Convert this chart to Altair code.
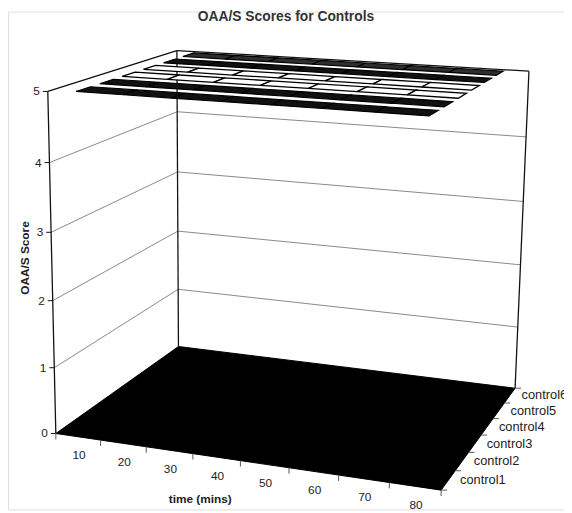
import numpy as np
import pandas as pd
import altair as alt

# ---------------- data ----------------
times = [10, 20, 30, 40, 50, 60, 70, 80]
controls = ["control1", "control2", "control3", "control4", "control5", "control6"]
control1 = [5, 5, 5, 5, 5, 5, 5, 5]
control2 = [5, 5, 5, 5, 5, 5, 5, 5]
control3 = [5, 5, 5, 5, 5, 5, 5, 5]
control4 = [5, 5, 5, 5, 5, 5, 5, 5]
control5 = [5, 5, 5, 5, 5, 5, 5, 5]
control6 = [5, 5, 5, 5, 5, 5, 5, 5]
series = [control1, control2, control3, control4, control5, control6]
score_ticks = [0, 1, 2, 3, 4, 5]

chart_title = "OAA/S Scores for Controls"
x_title = "time (mins)"
y_title = "OAA/S Score"

# ---------------- styling / layout ----------------
FONT = "Liberation Sans"
W, H = 564, 505
ribbon_style = ["dark", "dark", "light", "light", "dark", "dark2"]
HALF = 0.30  # half ribbon depth, in category units

# 3D box: u = time category axis (0..n), v = series depth axis (0..m), w = score
nU, nV, wMax = len(times), len(controls), max(score_ticks)

# anchor points of the perspective box (u, v, w) -> page pixel (x, y)
anchors = []
front_x = [57, 102, 148, 197, 243, 292, 343, 393, 445]
for i, xx in enumerate(front_x):
    anchors.append((i, 0, 0, xx, 436 + (xx - 57) * 57 / 388))
for j, (xx, yy) in enumerate([(445, 493), (463, 474), (477, 456), (490, 437),
                             (502, 421), (512, 406), (522, 390)]):
    if j > 0:
        anchors.append((nU, j, 0, xx, yy))
for k, yy in enumerate([437, 369, 302, 232, 162, 88]):
    if k > 0:
        anchors.append((0, 0, k, 57 - (437 - yy) * 9 / 349, yy))
anchors += [(0, nV, 0, 180, 348), (0, nV, wMax, 180, 47),
            (nU, nV, wMax, 536, 69), (nU, nV, 0, 520, 389)]

A = []
for u, v, w, X, Y in anchors:
    X, Y = (X - 8) / 100.0, (Y - 8) / 100.0
    A.append([u, v, w, 1, 0, 0, 0, 0, -X * u, -X * v, -X * w, -X])
    A.append([0, 0, 0, 0, u, v, w, 1, -Y * u, -Y * v, -Y * w, -Y])
_, _, vt = np.linalg.svd(np.array(A, dtype=float))
M = vt[-1].reshape(3, 4)
M = M / M[2, 3]


def proj_expr(row, su, sv, sw):
    den = f"({M[2,0]:.8f}*datum.{su}+{M[2,1]:.8f}*datum.{sv}+{M[2,2]:.8f}*datum.{sw}+{M[2,3]:.8f})"
    num = f"({M[row,0]:.8f}*datum.{su}+{M[row,1]:.8f}*datum.{sv}+{M[row,2]:.8f}*datum.{sw}+{M[row,3]:.8f})"
    return f"100*{num}/{den}"


def with_proj(ch, suffix=""):
    return ch.transform_calculate(
        **{"px" + suffix: proj_expr(0, "u" + suffix, "v" + suffix, "w" + suffix),
           "py" + suffix: proj_expr(1, "u" + suffix, "v" + suffix, "w" + suffix)})


XS = alt.Scale(domain=[0, W], nice=False, zero=False)
YS = alt.Scale(domain=[H, 0], nice=False, zero=False)


def X(f):
    return alt.X(f"{f}:Q", scale=XS, axis=None)


def Y(f):
    return alt.Y(f"{f}:Q", scale=YS, axis=None)


# ---------------- tables ----------------
floor = pd.DataFrame({"u": [0, nU, nU, 0, 0], "v": [0, 0, nV, nV, 0],
                      "w": [0] * 5, "idx": range(5), "pid": ["floor"] * 5})

rib_rows = []
for k, (name, vals) in enumerate(zip(controls, series)):
    vc = k + 0.5
    for i in range(len(times) - 1):
        pts = [(i + 0.5, vc - HALF, vals[i]), (i + 1.5, vc - HALF, vals[i + 1]),
               (i + 1.5, vc + HALF, vals[i + 1]), (i + 0.5, vc + HALF, vals[i]),
               (i + 0.5, vc - HALF, vals[i])]
        for n, (u, v, w) in enumerate(pts):
            rib_rows.append({"u": u, "v": v, "w": w, "idx": n,
                             "pid": f"{name}_{i}", "style": ribbon_style[k]})
ribbons = pd.DataFrame(rib_rows)

grid_rows = []
for s in score_ticks[1:-1]:
    grid_rows.append({"u": 0, "v": 0, "w": s, "u2": 0, "v2": nV, "w2": s})
    grid_rows.append({"u": 0, "v": nV, "w": s, "u2": nU, "v2": nV, "w2": s})
grid = pd.DataFrame(grid_rows)

edges = pd.DataFrame([
    {"u": 0, "v": 0, "w": 0, "u2": 0, "v2": 0, "w2": wMax},
    {"u": 0, "v": 0, "w": wMax, "u2": 0, "v2": nV, "w2": wMax},
    {"u": 0, "v": nV, "w": 0, "u2": 0, "v2": nV, "w2": wMax},
    {"u": 0, "v": nV, "w": wMax, "u2": nU, "v2": nV, "w2": wMax},
    {"u": nU, "v": nV, "w": 0, "u2": nU, "v2": nV, "w2": wMax},
])

score_lab = pd.DataFrame({"u": 0, "v": 0, "w": score_ticks,
                          "label": [str(s) for s in score_ticks]})
time_lab = pd.DataFrame({"u": [i + 0.5 for i in range(nU)], "v": 0, "w": 0,
                         "label": [str(t) for t in times]})
ctrl_lab = pd.DataFrame({"u": nU, "v": [k + 0.5 for k in range(nV)], "w": 0,
                         "label": controls})
time_tick = pd.DataFrame({"u": list(range(nU + 1)), "v": 0, "w": 0})
ctrl_tick = pd.DataFrame({"u": nU, "v": list(range(nV + 1)), "w": 0})


def seg_layer(df, color, width, dash=None):
    kw = dict(color=color, strokeWidth=width)
    if dash:
        kw["strokeDash"] = dash
    ch = alt.Chart(df)
    ch = with_proj(ch)
    ch = with_proj(ch, "2")
    return ch.mark_rule(**kw).encode(x=X("px"), y=Y("py"), x2="px2:Q", y2="py2:Q")


def poly_layer(df, fill, stroke, width):
    ch = with_proj(alt.Chart(df))
    return ch.mark_line(fill=fill, stroke=stroke, strokeWidth=width,
                        strokeJoin="miter").encode(
        x=X("px"), y=Y("py"), order="idx:Q", detail="pid:N")


floor_layer = poly_layer(floor, "#000000", "#000000", 1)
grid_layer = seg_layer(grid, "#7a7a7a", 0.9)
edge_layer = seg_layer(edges, "#111111", 1.3)

score_ticks_layer = with_proj(alt.Chart(score_lab)).transform_calculate(
    px2="datum.px-5").mark_rule(color="#111", strokeWidth=1).encode(
    x=X("px"), y=Y("py"), x2="px2:Q")
time_ticks_layer = with_proj(alt.Chart(time_tick)).transform_calculate(
    py2="datum.py+6").mark_rule(color="#555", strokeWidth=1).encode(
    x=X("px"), y=Y("py"), y2="py2:Q")
ctrl_ticks_layer = with_proj(alt.Chart(ctrl_tick)).transform_calculate(
    px2="datum.px+6").mark_rule(color="#555", strokeWidth=1).encode(
    x=X("px"), y=Y("py"), x2="px2:Q")

rib_dark = poly_layer(ribbons[ribbons["style"] == "dark"], "#111111", "#000000", 1.2)
rib_dark2 = poly_layer(ribbons[ribbons["style"] == "dark2"], "#2e2e2e", "#000000", 1.2)
rib_light = poly_layer(ribbons[ribbons["style"] == "light"], "#ffffff", "#000000", 1.3)

score_text = with_proj(alt.Chart(score_lab)).mark_text(
    align="right", baseline="middle", dx=-8, font=FONT, fontSize=12, color="#222").encode(
    x=X("px"), y=Y("py"), text="label:N")
time_text = with_proj(alt.Chart(time_lab)).mark_text(
    align="center", baseline="middle", dy=19, dx=1, font=FONT, fontSize=12, color="#222").encode(
    x=X("px"), y=Y("py"), text="label:N")
ctrl_text = with_proj(alt.Chart(ctrl_lab)).mark_text(
    align="left", baseline="middle", dx=12, font=FONT, fontSize=13, color="#222").encode(
    x=X("px"), y=Y("py"), text="label:N")

titles = pd.DataFrame({"t": [chart_title]})
title_text = alt.Chart(titles).mark_text(
    font=FONT, fontSize=14, fontWeight="bold", color="#333", align="center",
    baseline="middle").encode(x=alt.value(282), y=alt.value(6), text="t:N")
xt = pd.DataFrame({"t": [x_title]})
x_title_text = alt.Chart(xt).mark_text(
    font=FONT, fontSize=12, fontWeight="bold", color="#222", align="center",
    baseline="middle").encode(x=alt.value(195), y=alt.value(494), text="t:N")
yt = pd.DataFrame({"t": [y_title]})
y_title_text = alt.Chart(yt).mark_text(
    font=FONT, fontSize=12, fontWeight="bold", color="#222", align="center",
    baseline="middle", angle=270).encode(x=alt.value(17), y=alt.value(250), text="t:N")

chart = alt.layer(
    floor_layer, grid_layer, edge_layer, score_ticks_layer, time_ticks_layer,
    ctrl_ticks_layer, rib_dark, rib_dark2, rib_light, score_text, time_text,
    ctrl_text, title_text, x_title_text, y_title_text,
).properties(width=W, height=H, padding=0, autosize="none").configure_view(
    stroke=None).configure(background="white")

chart.save("out.html", embed_options={"renderer": "svg", "actions": False})
